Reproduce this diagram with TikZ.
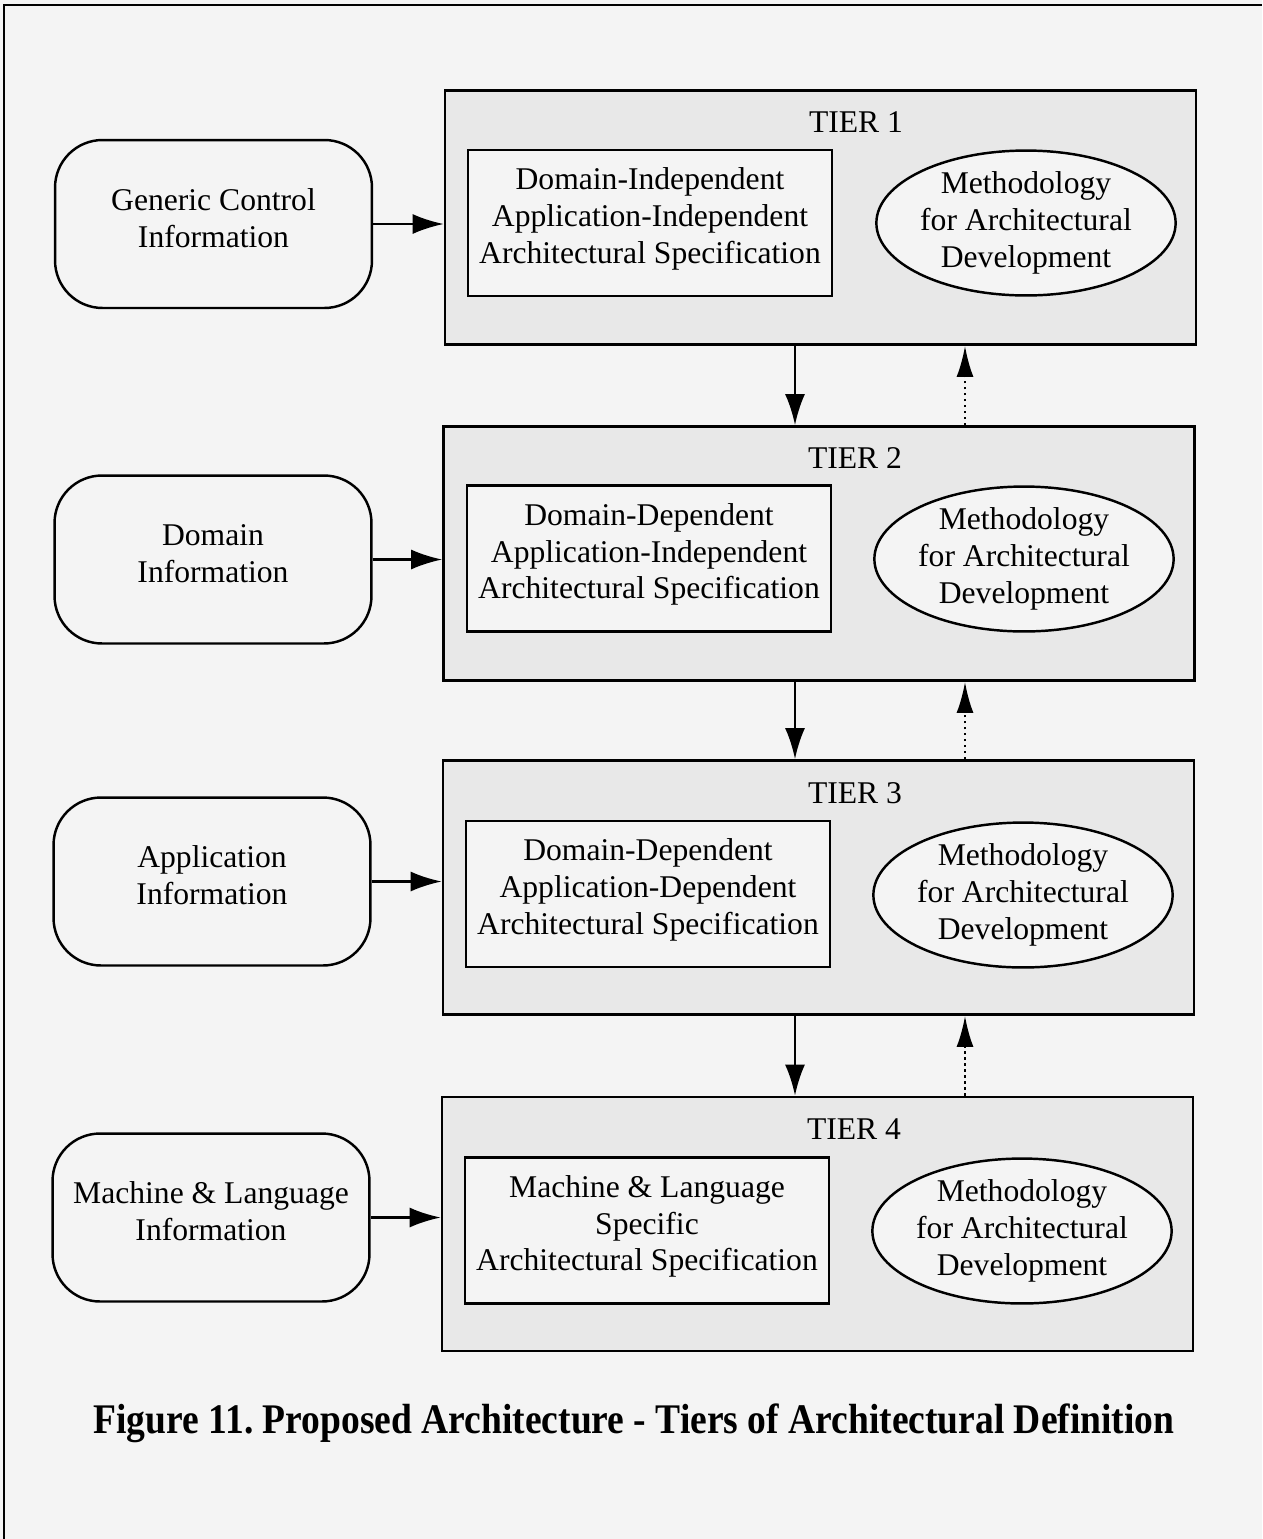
\documentclass[tikz,border=0pt]{standalone}
\usepackage{fontspec}
\setmainfont{Liberation Serif}
\usetikzlibrary{arrows.meta,shapes.geometric}
\frenchspacing

\definecolor{paper}{HTML}{F4F4F4}
\definecolor{tierfill}{HTML}{E8E8E8}

\begin{document}
\begin{tikzpicture}[x=0.02cm, y=-0.02cm,
    tier/.style={rectangle, draw=black, line width=1.6pt, fill=tierfill,
        minimum width=15.02cm, minimum height=5.08cm},
    tiername/.style={font=\fontsize{18}{21}\selectfont, inner sep=0pt},
    spec/.style={rectangle, draw=black, line width=1.4pt, fill=paper,
        minimum width=7.28cm, minimum height=2.92cm, align=center,
        font=\fontsize{18}{21}\selectfont, inner sep=2pt, text depth=8.5pt},
    method/.style={ellipse, draw=black, line width=1.4pt, fill=paper,
        minimum width=5.84cm, minimum height=2.88cm, inner sep=0pt,
        align=center, font=\fontsize{18}{21}\selectfont},
    info/.style={rectangle, rounded corners=0.95cm, draw=black, line width=1.4pt,
        fill=paper, minimum width=6.34cm, minimum height=3.36cm,
        align=center, font=\fontsize{18}{21}\selectfont, text depth=7pt},
    feed/.style={line width=1.4pt, -{Latex[length=0.62cm, width=0.4cm]}},
    back/.style={line width=1.4pt, dotted, -{Latex[length=0.62cm, width=0.34cm]}}
]
    % page and frame
    \fill[paper] (0,0) rectangle (1262,1539);
    \useasboundingbox (0,0) rectangle (1262,1539);
    \draw[line width=1.5pt] (4,1539) -- (4,5) -- (1262,5);

    % tier boxes
    \node[tier] (t1) at (820.5,217.5) {};
    \node[tier] (t2) at (819,553.5) {};
    \node[tier] (t3) at (818.5,887.5) {};
    \node[tier] (t4) at (817.5,1224) {};

    \node[tiername] (n1) at (856,122) {TIER 1};
    \node[tiername] (n2) at (855,458) {TIER 2};
    \node[tiername] (n3) at (855,793) {TIER 3};
    \node[tiername] (n4) at (854,1129) {TIER 4};

    % specifications
    \node[spec] (s1) at (650,223) {Domain-Independent\\Application-Independent\\Architectural Specification};
    \node[spec] (s2) at (649,558.5) {Domain-Dependent\\Application-Independent\\Architectural Specification};
    \node[spec] (s3) at (648,894) {Domain-Dependent\\Application-Dependent\\Architectural Specification};
    \node[spec] (s4) at (647,1230.5) {Machine \& Language\\Specific\\Architectural Specification};

    % methodology
    \node[method] (m1) at (1026,223) {Methodology\\for Architectural\\Development};
    \node[method] (m2) at (1024,559) {Methodology\\for Architectural\\Development};
    \node[method] (m3) at (1023,895) {Methodology\\for Architectural\\Development};
    \node[method] (m4) at (1022,1231) {Methodology\\for Architectural\\Development};

    % information inputs
    \node[info] (i1) at (213.5,224) {Generic Control\\Information};
    \node[info] (i2) at (213,559.5) {Domain\\Information};
    \node[info] (i3) at (212,881.5) {Application\\Information};
    \node[info] (i4) at (211,1217.5) {Machine \& Language\\Information};

    \draw[feed] (i1) -- (i1 -| t1.west);
    \draw[feed] (i2) -- (i2 -| t2.west);
    \draw[feed] (i3) -- (i3 -| t3.west);
    \draw[feed] (i4) -- (i4 -| t4.west);

    % between tiers
    \coordinate (down) at (795,0);
    \coordinate (up) at (965,0);
    \draw[feed] (t1.south -| down) -- (t2.north -| down);
    \draw[feed] (t2.south -| down) -- (t3.north -| down);
    \draw[feed] (t3.south -| down) -- (t4.north -| down);
    \draw[back] (t2.north -| up) -- (t1.south -| up);
    \draw[back] (t3.north -| up) -- (t2.south -| up);
    \draw[back] (t4.north -| up) -- (t3.south -| up);

    \node (cap) at (634,1423) {\scalebox{0.89}[1]{\fontsize{24}{28}\selectfont\bfseries
        Figure 11. Proposed Architecture - Tiers of Architectural Definition}};
\end{tikzpicture}
\end{document}
